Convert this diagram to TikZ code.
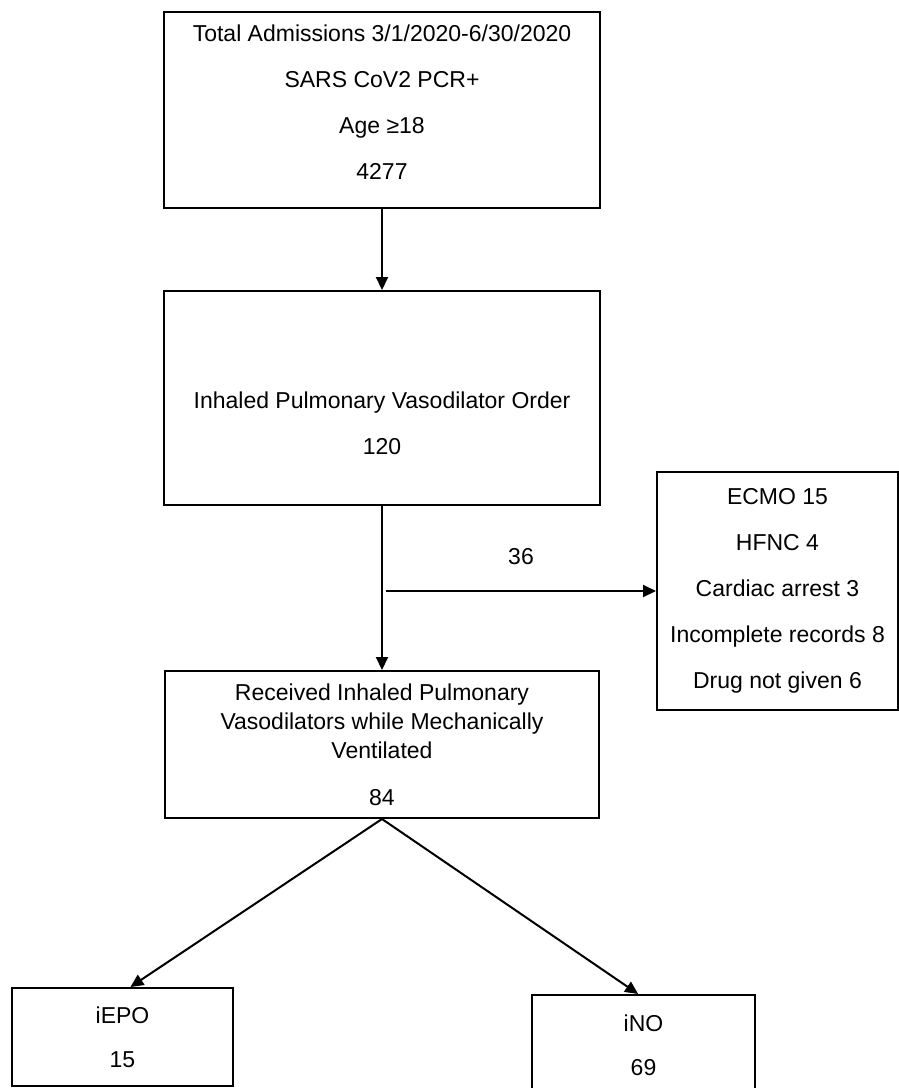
\documentclass[tikz,border=0pt]{standalone}
\usepackage{fontspec}
\setmainfont{Liberation Sans}
\usetikzlibrary{arrows.meta}

\begin{document}
\begin{tikzpicture}[x=0.5pt,y=-0.5pt,
	box/.style={draw,line width=1pt,align=center,inner sep=0pt,
		font=\fontsize{11.5}{23}\selectfont},
	boxtext/.style={align=center,inner sep=0pt,font=\fontsize{11.5}{23}\selectfont},
	arr/.style={line width=1pt,-{Triangle[length=6.5pt,width=6pt]}}]
	\useasboundingbox (0,0) rectangle (899,1088);
	\node[box,minimum width=218pt,minimum height=98pt] (total) at (382,110) {};
	\node[boxtext] (totaltext) at (382,102)
		{Total Admissions 3/1/2020-6/30/2020\\SARS CoV2 PCR+\\Age \char"2265 18\\4277};
	\node[box,minimum width=218pt,minimum height=107pt] (order) at (382,398) {};
	\node[boxtext] (ordertext) at (382,423) {Inhaled Pulmonary Vasodilator Order\\120};
	\node[box,minimum width=120.5pt,minimum height=119pt] (excl) at (777.5,591)
		{ECMO 15\\HFNC 4\\Cardiac arrest 3\\Incomplete records 8\\Drug not given 6};
	\node[box,minimum width=217pt,minimum height=73.5pt,
		font=\fontsize{11.5}{14.5}\selectfont] (recv) at (382,744.5)
		{Received Inhaled Pulmonary\\Vasodilators while Mechanically\\Ventilated\\[9pt]84};
	\node[box,minimum width=110.5pt,minimum height=49pt,
		font=\fontsize{11.5}{22}\selectfont] (iepo) at (122.5,1037) {iEPO\\15};
	\node[box,minimum width=111.5pt,minimum height=50pt,
		font=\fontsize{11.5}{22}\selectfont] (ino) at (643.5,1045) {iNO\\69};
	\coordinate (split) at (386,591);
	\draw[arr] (total) -- (order);
	\draw[arr] (order) -- (recv);
	\draw[arr] (split) -- node[above=9.5pt,font=\fontsize{11.5}{14}\selectfont] (n36) {36} (excl);
	\draw[arr] (recv.south) -- (iepo.81);
	\draw[arr] (recv.south) -- (ino.96);
\end{tikzpicture}
\end{document}
